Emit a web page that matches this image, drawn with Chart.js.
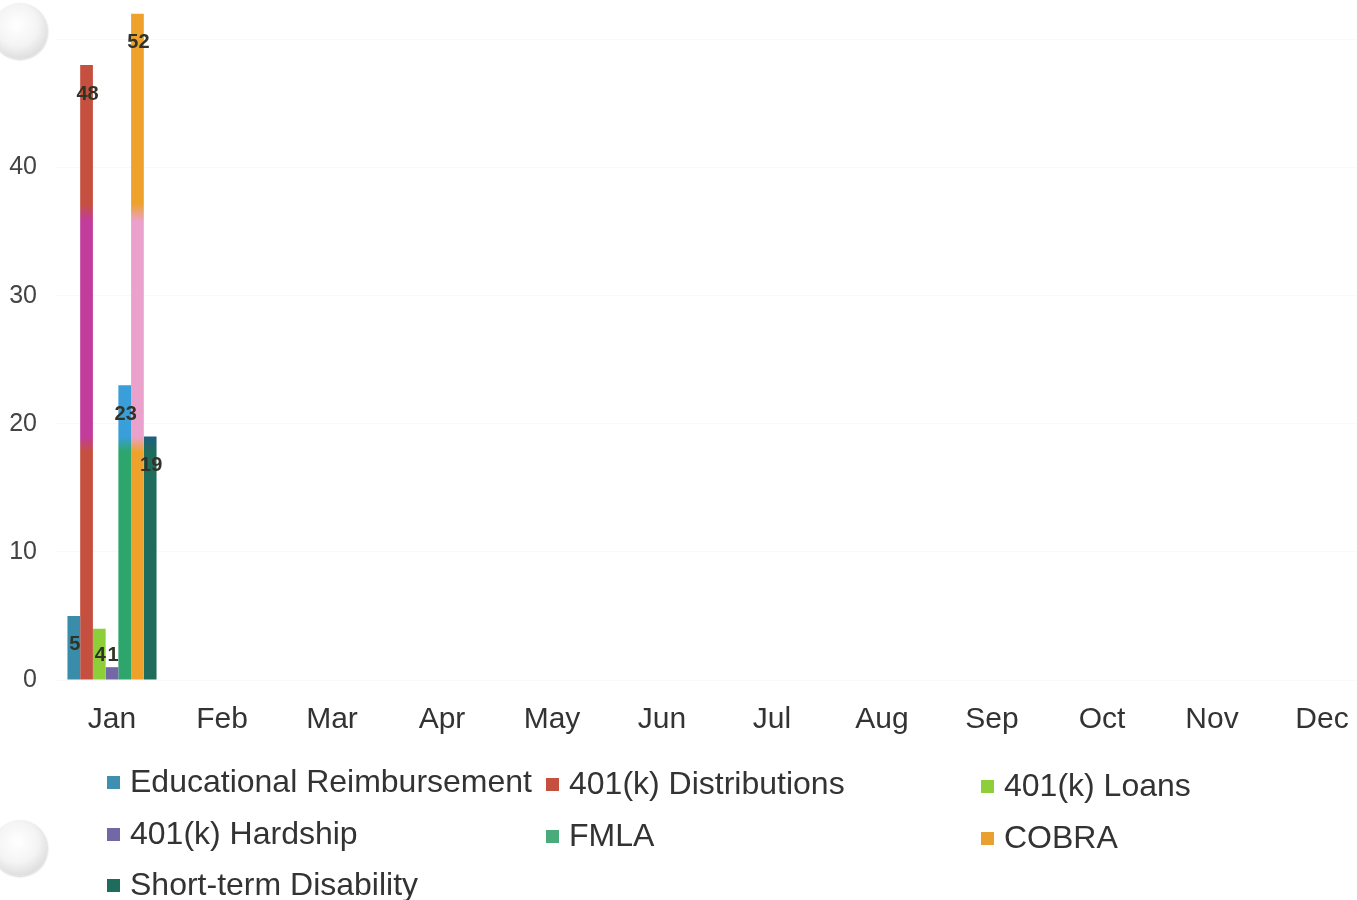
<!DOCTYPE html>
<html>
<head>
<meta charset="utf-8">
<script src="https://cdn.jsdelivr.net/npm/chart.js@4.4.1/dist/chart.umd.min.js"></script>
<style>
  html, body { margin: 0; padding: 0; background: #fff; overflow: hidden; width: 1357px; height: 900px; }
  #wrap { position: absolute; left: 0; top: -34px; width: 1400px; height: 784px; }
  #legend { position: absolute; left: 0; top: 0; width: 1357px; height: 900px; pointer-events: none;
            font-family: "Liberation Sans", Arial, sans-serif; font-size: 32px; color: #333; }
  .li { position: absolute; white-space: nowrap; line-height: 1; }
  .li .box { display: inline-block; width: 13px; height: 13px; margin-right: 10px; vertical-align: 3px; }
  .hole { position: absolute; width: 56px; height: 56px; border-radius: 50%;
          background: radial-gradient(circle at 45% 40%, #ffffff 0%, #f4f4f4 45%, #d8d8d8 82%, #bdbdbd 100%);
          box-shadow: 0 1px 2px rgba(0,0,0,0.18); }
</style>
</head>
<body>
<div id="wrap"><canvas id="c"></canvas></div>
<div id="legend"></div>
<div class="hole" style="left:-8px; top:3px;"></div>
<div class="hole" style="left:-8px; top:820px;"></div>
<script>
// ---- data ----
const months = ["Jan","Feb","Mar","Apr","May","Jun","Jul","Aug","Sep","Oct","Nov","Dec"];
const seriesNames = ["Educational Reimbursement","401(k) Distributions","401(k) Loans","401(k) Hardship","FMLA","COBRA","Short-term Disability"];
const educational   = [5, null, null, null, null, null, null, null, null, null, null, null];
const distributions = [48, null, null, null, null, null, null, null, null, null, null, null];
const loans         = [4, null, null, null, null, null, null, null, null, null, null, null];
const hardship      = [1, null, null, null, null, null, null, null, null, null, null, null];
const fmla          = [23, null, null, null, null, null, null, null, null, null, null, null];
const cobra         = [52, null, null, null, null, null, null, null, null, null, null, null];
const shortTerm     = [19, null, null, null, null, null, null, null, null, null, null, null];
const yTicks = [0, 10, 20, 30, 40, 50];

// ---- styles ----
const baseColors = ["#3a8cab","#c6503f","#8ccf38","#7268a6","#2ea56c","#eea22c","#1d6c5c"];
// scanned highlighter band colours (value range ~18.5..36.5)
const bandColors = [null, "#c23c9c", null, null, "#3a9edb", "#eaa2cc", "#1f5f80"];
const legendColors = ["#3e8fb0","#c6503f","#8ccf38","#7268a6","#4aab7a","#eaa030","#1d6c5c"];
const allData = [educational, distributions, loans, hardship, fmla, cobra, shortTerm];
const Y_MAX = 53;

function makeFill(i) {
  return function(ctx) {
    const chart = ctx.chart;
    const area = chart.chartArea;
    if (!area || !bandColors[i]) return baseColors[i];
    const y = chart.scales.y;
    const y0 = y.getPixelForValue(0), y1 = y.getPixelForValue(Y_MAX);
    const g = chart.ctx.createLinearGradient(0, y0, 0, y1);
    const t = v => v / Y_MAX;
    const b = baseColors[i], h = bandColors[i];
    g.addColorStop(0, b);
    g.addColorStop(t(17.8), b);
    g.addColorStop(t(19.0), h);
    g.addColorStop(t(35.8), h);
    g.addColorStop(t(37.2), b);
    g.addColorStop(1, b);
    return g;
  };
}

const datasets = seriesNames.map((name, i) => ({
  label: name,
  data: allData[i],
  backgroundColor: makeFill(i),
  borderWidth: 0,
  categoryPercentage: 0.81,
  barPercentage: 1.0,
  skipNull: false
}));

const valueLabels = {
  id: 'valueLabels',
  afterDatasetsDraw(chart) {
    const ctx = chart.ctx;
    const base = chart.scales.y.getPixelForValue(0);
    ctx.save();
    ctx.font = 'bold 20px "Liberation Sans", Arial, sans-serif';
    ctx.fillStyle = '#313327';
    ctx.textAlign = 'center';
    ctx.textBaseline = 'middle';
    chart.data.datasets.forEach((ds, di) => {
      const meta = chart.getDatasetMeta(di);
      meta.data.forEach((bar, idx) => {
        const v = ds.data[idx];
        if (v === null || v === undefined) return;
        const yy = Math.min(bar.y + 29, base - 25);
        ctx.fillText(String(v), bar.x + 1, yy);
      });
    });
    ctx.restore();
  }
};

new Chart(document.getElementById('c'), {
  type: 'bar',
  data: { labels: months, datasets },
  options: {
    responsive: true,
    maintainAspectRatio: false,
    animation: false,
    layout: { padding: { left: 0, right: 23, top: 0, bottom: 0 } },
    plugins: { legend: { display: false }, tooltip: { enabled: false } },
    scales: {
      x: {
        grid: { display: false, drawTicks: false },
        border: { display: false },
        ticks: { color: '#333', padding: 22, font: { family: '"Liberation Sans", Arial, sans-serif', size: 30 } },
        afterFit(s) { s.height = 70; }
      },
      y: {
        min: 0, max: Y_MAX,
        afterBuildTicks(s) { s.ticks = yTicks.map(v => ({ value: v })); },
        grid: { color: 'rgba(0,0,0,0.025)', drawTicks: false },
        border: { display: false },
        ticks: { color: '#444', padding: 20, font: { family: '"Liberation Sans", Arial, sans-serif', size: 25 } },
        afterFit(s) { s.width = 57; }
      }
    }
  },
  plugins: [valueLabels]
});

// HTML legend built from the series
const legendPos = [
  [107, 765], [546, 767], [981, 769],
  [107, 817], [546, 819], [981, 821],
  [107, 868]
];
const lg = document.getElementById('legend');
seriesNames.forEach((name, i) => {
  const d = document.createElement('div');
  d.className = 'li';
  d.style.left = legendPos[i][0] + 'px';
  d.style.top = legendPos[i][1] + 'px';
  const b = document.createElement('span');
  b.className = 'box';
  b.style.background = legendColors[i];
  d.appendChild(b);
  d.appendChild(document.createTextNode(name));
  lg.appendChild(d);
});
</script>
</body>
</html>
